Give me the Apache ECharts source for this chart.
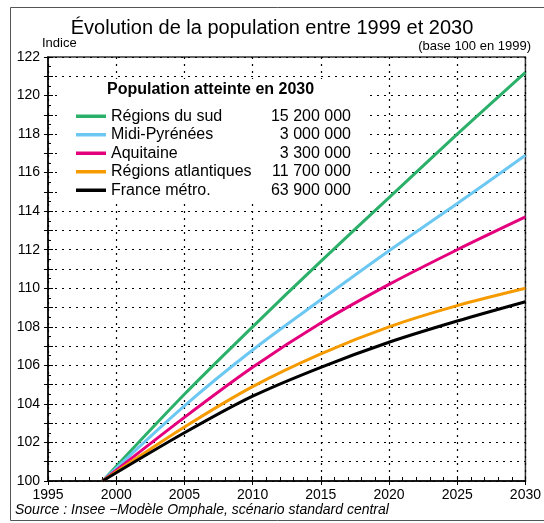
<!DOCTYPE html>
<html>
<head>
<meta charset="utf-8">
<script src="https://cdn.jsdelivr.net/npm/echarts@6/dist/echarts.min.js"></script>
<style>html,body{margin:0;padding:0;background:#fff}#c{width:544px;height:523px}</style>
</head>
<body>
<div id="c"></div>
<script>
const years = [1999, 2005, 2010, 2015, 2020, 2025, 2030];
const sud = [100, 104.5, 108.0, 111.4, 114.7, 118.0, 121.2];
const midiPyrenees = [100, 103.9, 106.8, 109.4, 111.95, 114.4, 116.9];
const aquitaine = [100, 103.3, 105.9, 108.2, 110.2, 112.0, 113.7];
const atlantiques = [100, 102.8, 104.9, 106.6, 108.0, 109.1, 110.0];
const france = [100, 102.5, 104.4, 105.9, 107.2, 108.3, 109.3];
const seriesNames = ['Régions du sud', 'Midi-Pyrénées', 'Aquitaine', 'Régions atlantiques', 'France métro.'];
const population2030 = ['15 200 000', '3 000 000', '3 300 000', '11 700 000', '63 900 000'];
const colors = ['#2bb06a', '#6cc8f2', '#e4007c', '#f59b00', '#000000'];
const seriesValues = [sud, midiPyrenees, aquitaine, atlantiques, france];

const FONT = "'Liberation Sans', Arial, sans-serif";
const chart = echarts.init(document.getElementById('c'));

const series = seriesNames.map((name, i) => ({
  name: name,
  type: 'line',
  smooth: 0.3,
  symbol: 'none',
  z: 5,
  lineStyle: { color: colors[i], width: 3 },
  itemStyle: { color: colors[i] },
  data: years.map((y, j) => [y, seriesValues[i][j]])
}));

const gridLine = { show: true, lineStyle: { color: '#000', type: [2, 5], width: 1.2 } };

chart.setOption({
  animation: false,
  title: {
    text: 'Évolution de la population entre 1999 et 2030',
    left: 'center',
    top: 13,
    textStyle: { fontFamily: FONT, fontSize: 20, fontWeight: 'normal', color: '#000' }
  },
  grid: { left: 48, right: 12, top: 57, bottom: 42, show: true, borderColor: '#333', borderWidth: 1.5, backgroundColor: 'transparent' },
  xAxis: [{
    type: 'value', min: 1995, max: 2030, interval: 5,
    axisLine: { show: true, lineStyle: { color: '#000', width: 1.5 } },
    axisTick: { show: true, inside: true, length: 5, lineStyle: { color: '#000' } },
    minorTick: { show: true, splitNumber: 5, length: 4, lineStyle: { color: '#000' } },
    axisLabel: { fontFamily: FONT, fontSize: 14, color: '#000', margin: 7, formatter: v => String(v) },
    splitLine: gridLine
  }, {
    type: 'value', min: 1995, max: 2030, interval: 5, position: 'bottom',
    axisLine: { show: false },
    axisTick: { show: true, inside: false, length: 4, lineStyle: { color: '#000' } },
    axisLabel: { show: false },
    splitLine: { show: false }
  }],
  yAxis: [{
    type: 'value', min: 100, max: 122, interval: 1,
    axisLine: { show: true, lineStyle: { color: '#000', width: 1.5 } },
    axisTick: { show: true, inside: true, length: 5, lineStyle: { color: '#000' } },
    minorTick: { show: true, splitNumber: 2, length: 3, lineStyle: { color: '#000' } },
    axisLabel: { fontFamily: FONT, fontSize: 14, color: '#000', margin: 8, formatter: v => (v % 2 === 0 ? String(v) : '') },
    splitLine: gridLine
  }, {
    type: 'value', min: 100, max: 122, interval: 1, position: 'left',
    axisLine: { show: false },
    axisTick: { show: true, inside: false, length: 4, lineStyle: { color: '#000' } },
    axisLabel: { show: false },
    splitLine: { show: false }
  }],
  legend: {
    orient: 'vertical',
    left: 71, top: 102,
    itemGap: 0,
    itemWidth: 30, itemHeight: 3.5,
    icon: 'rect',
    selectedMode: false,
    data: seriesNames,
    formatter: name => {
      const i = seriesNames.indexOf(name);
      return '{a|' + name + '}{b|' + population2030[i] + '}';
    },
    textStyle: {
      fontFamily: FONT, fontSize: 16, color: '#000', lineHeight: 18.5,
      rich: {
        a: { width: 150, fontFamily: FONT, fontSize: 16, color: '#000', lineHeight: 18.5 },
        b: { width: 90, align: 'right', fontFamily: FONT, fontSize: 16, color: '#000', lineHeight: 18.5 }
      }
    }
  },
  graphic: [
    { type: 'rect', z: 1, shape: { x: 10.5, y: 7.5, width: 545, height: 513 }, style: { fill: 'none', stroke: '#555', lineWidth: 1 } },
    { type: 'rect', z: 3, shape: { x: 62, y: 79, width: 306, height: 124 }, style: { fill: '#fff' } },
    { type: 'text', z: 6, left: 107, top: 82, style: { text: 'Population atteinte en 2030', font: "bold 16px 'Liberation Sans', Arial, sans-serif", fill: '#000' } },
    { type: 'text', z: 6, left: 42, top: 37, style: { text: 'Indice', font: "13px 'Liberation Sans', Arial, sans-serif", fill: '#000' } },
    { type: 'text', z: 6, right: 13, top: 40, style: { text: '(base 100 en 1999)', font: "13px 'Liberation Sans', Arial, sans-serif", fill: '#000' } },
    { type: 'text', z: 6, left: 15, top: 503, style: { text: 'Source : Insee −Modèle Omphale, scénario standard central', font: "italic 14px 'Liberation Sans', Arial, sans-serif", fill: '#000' } }
  ],
  series: series
});
</script>
</body>
</html>
